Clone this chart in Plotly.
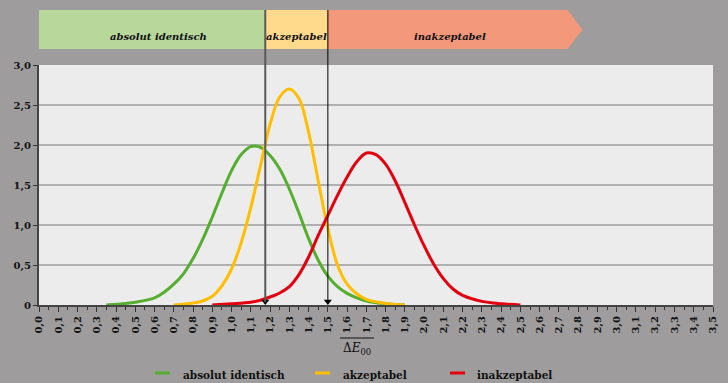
import plotly.graph_objects as go

# ---- data ----
green_x = [0.35, 0.45, 0.5, 0.6, 0.65, 0.7, 0.75, 0.8, 0.85, 0.9, 0.95, 1.0, 1.05, 1.1,
           1.15, 1.2, 1.25, 1.3, 1.35, 1.4, 1.45, 1.5, 1.55, 1.6, 1.65, 1.7, 1.8, 1.9]
green_y = [0.0, 0.02, 0.035, 0.09, 0.16, 0.26, 0.39, 0.58, 0.82, 1.10, 1.40, 1.68, 1.88, 1.98,
           1.97, 1.87, 1.70, 1.45, 1.15, 0.83, 0.56, 0.36, 0.23, 0.145, 0.09, 0.05, 0.015, 0.0]

yellow_x = [0.7, 0.8, 0.85, 0.9, 0.95, 1.0, 1.05, 1.1, 1.15, 1.2, 1.25, 1.3, 1.35, 1.4,
            1.45, 1.5, 1.55, 1.6, 1.65, 1.7, 1.8, 1.9]
yellow_y = [0.0, 0.025, 0.05, 0.11, 0.24, 0.45, 0.78, 1.22, 1.74, 2.26, 2.60, 2.70, 2.58, 2.16,
            1.55, 0.96, 0.50, 0.26, 0.14, 0.07, 0.02, 0.0]

red_x = [0.9, 1.0, 1.1, 1.15, 1.2, 1.25, 1.3, 1.35, 1.4, 1.45, 1.5, 1.55, 1.6, 1.65, 1.7,
         1.75, 1.8, 1.85, 1.9, 1.95, 2.0, 2.05, 2.1, 2.15, 2.2, 2.3, 2.4, 2.5]
red_y = [0.0, 0.015, 0.035, 0.06, 0.10, 0.15, 0.23, 0.38, 0.60, 0.87, 1.12, 1.37, 1.60, 1.79, 1.90,
         1.88, 1.76, 1.55, 1.28, 1.00, 0.74, 0.51, 0.33, 0.20, 0.12, 0.045, 0.015, 0.0]

series_names = ["absolut identisch", "akzeptabel", "inakzeptabel"]
thresholds = [1.175, 1.5]

x_tickvals = [i / 10 for i in range(0, 36)]
x_ticktext = [f"{v:.1f}".replace(".", ",") for v in x_tickvals]
y_tickvals = [0, 0.5, 1.0, 1.5, 2.0, 2.5, 3.0]
y_ticktext = ["0", "0,5", "1,0", "1,5", "2,0", "2,5", "3,0"]

# ---- style ----
BG = "#9e9c9c"
PLOT_BG = "#ececec"
C_GREEN = "#55ae30"
C_YELLOW = "#ffbe00"
C_RED = "#e3000f"
B_GREEN = "#b7d79b"
B_YELLOW = "#ffd98c"
B_SALMON = "#f4987b"
FONT = "DejaVu Serif"

W, H = 728, 383
ML, MR, MT, MB = 39, 15, 65, 78
PW, PH = W - ML - MR, H - MT - MB


def px_x(p):
    return (p - ML) / PW


def px_y(p):
    return (H - MB - p) / PH


fig = go.Figure()
for xs, ys, c, n in [(green_x, green_y, C_GREEN, series_names[0]),
                     (yellow_x, yellow_y, C_YELLOW, series_names[1]),
                     (red_x, red_y, C_RED, series_names[2])]:
    fig.add_trace(go.Scatter(x=xs, y=ys, mode="lines", name=n,
                             line=dict(color=c, width=3, shape="spline", smoothing=1.0),
                             showlegend=False, cliponaxis=False, hoverinfo="skip"))

ban_lo, ban_hi = px_y(49), px_y(10)
shapes = []
# banner
shapes.append(dict(type="rect", xref="x", yref="paper", x0=-0.005, x1=thresholds[0],
                   y0=ban_lo, y1=ban_hi, fillcolor=B_GREEN, line=dict(width=0), layer="below"))
shapes.append(dict(type="rect", xref="x", yref="paper", x0=thresholds[0], x1=thresholds[1],
                   y0=ban_lo, y1=ban_hi, fillcolor=B_YELLOW, line=dict(width=0), layer="below"))
shapes.append(dict(type="path", xref="x", yref="paper",
                   path=f"M {thresholds[1]},{ban_lo} L 2.745,{ban_lo} L 2.822,{(ban_lo+ban_hi)/2} "
                        f"L 2.745,{ban_hi} L {thresholds[1]},{ban_hi} Z",
                   fillcolor=B_SALMON, line=dict(width=0), layer="below"))
# vertical threshold lines
for xv, col, w in [(thresholds[0], "#5a5a5a", 2), (thresholds[1], "#000000", 1)]:
    shapes.append(dict(type="line", xref="x", yref="paper", x0=xv, x1=xv, y0=px_y(302), y1=ban_hi,
                       line=dict(color=col, width=w), layer="above"))
# arrowheads
fig.add_trace(go.Scatter(x=thresholds, y=[0.045, 0.045], mode="markers",
                         marker=dict(symbol="triangle-down", size=7, color="#000000",
                                     line=dict(width=0)),
                         showlegend=False, cliponaxis=False, hoverinfo="skip"))

annotations = []
# banner labels
for xv, t in [(0.62, "absolut identisch"), ((thresholds[0] + thresholds[1]) / 2, "akzeptabel"),
              (2.136, "inakzeptabel")]:
    annotations.append(dict(x=xv, y=(ban_lo + ban_hi) / 2, xref="x", yref="paper",
                            text=f"<b><i>{t}</i></b>", showarrow=False,
                            font=dict(family=FONT, size=10, color="#111111")))
# axis title with overline
annotations.append(dict(x=px_x(357), y=px_y(339), xref="paper", yref="paper",
                        yanchor="top", text="Δ<i>E</i><sub>00</sub>", showarrow=False,
                        font=dict(family=FONT, size=12, color="#111111")))
shapes.append(dict(type="line", xref="paper", yref="paper",
                   x0=px_x(340), x1=px_x(374), y0=px_y(338), y1=px_y(338),
                   line=dict(color="#111111", width=1)))
# custom legend
leg_line_y = px_y(373)
leg_text_y = px_y(367)
for (s0, s1, tx), c, n in zip([(155, 170, 181), (315, 330, 341), (450, 465, 475)],
                             [C_GREEN, C_YELLOW, C_RED], series_names):
    shapes.append(dict(type="line", xref="paper", yref="paper",
                       x0=px_x(s0), x1=px_x(s1), y0=leg_line_y, y1=leg_line_y,
                       line=dict(color=c, width=3)))
    annotations.append(dict(x=px_x(tx), y=leg_text_y, xref="paper", yref="paper",
                            xanchor="left", yanchor="top", text=f"<b>{n}</b>", showarrow=False,
                            font=dict(family=FONT, size=10.5, color="#111111")))

fig.update_layout(
    width=W, height=H,
    margin=dict(l=ML, r=MR, t=MT, b=MB, autoexpand=False),
    paper_bgcolor=BG, plot_bgcolor=PLOT_BG,
    shapes=shapes, annotations=annotations,
    showlegend=False,
    font=dict(family=FONT, size=10, color="#111111"),
    xaxis=dict(range=[0, 3.5], tickvals=x_tickvals, ticktext=x_ticktext, tickangle=-90,
               ticks="outside", ticklen=5, tickcolor="#333333", showgrid=False,
               showline=True, linecolor="#444444", linewidth=2, zeroline=False,
               automargin=False,
               tickfont=dict(family=FONT, size=10, weight="bold", color="#111111"),
               minor=dict(dtick=0.05, tick0=0, ticks="outside", ticklen=3, tickcolor="#333333")),
    yaxis=dict(range=[0, 3.0], tickvals=y_tickvals, ticktext=y_ticktext,
               ticks="outside", ticklen=4, tickcolor="#333333",
               showgrid=True, gridcolor="#b0b0b0", gridwidth=1.5,
               showline=True, linecolor="#444444", linewidth=2, zeroline=False,
               automargin=False,
               tickfont=dict(family=FONT, size=10, weight="bold", color="#111111")),
)

fig.write_html("out.html", config={"displayModeBar": False},
               post_script="document.body.style.margin='0';document.body.style.background='%s';" % BG)
